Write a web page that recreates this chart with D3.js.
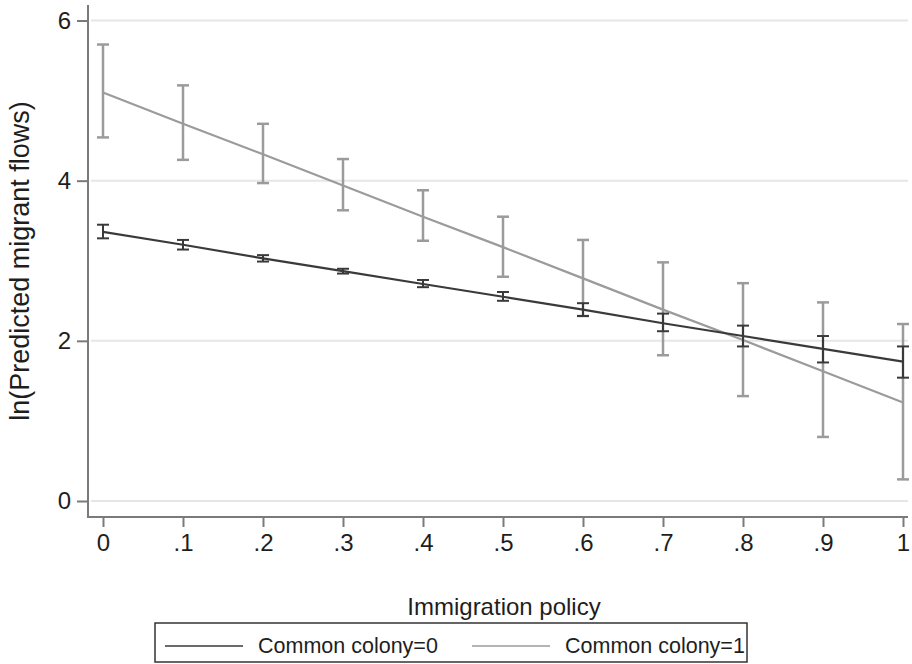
<!DOCTYPE html>
<html>
<head>
<meta charset="utf-8">
<script src="https://cdn.jsdelivr.net/npm/d3@7"></script>
<style>
	body { margin: 0; background: #fff; }
	svg { display: block; font-family: "Liberation Sans", Arial, sans-serif; }
</style>
</head>
<body>
<svg id="chart" width="912" height="664"></svg>
<script>
// immigration policy values on the x axis
var policy = [0, .1, .2, .3, .4, .5, .6, .7, .8, .9, 1];

// Common colony=0 : predicted value and 95% interval
var colony0 = [3.36, 3.20, 3.03, 2.87, 2.71, 2.55, 2.39, 2.22, 2.06, 1.90, 1.74];
var colony0Lo = [3.28, 3.14, 2.99, 2.84, 2.67, 2.50, 2.31, 2.12, 1.93, 1.73, 1.54];
var colony0Hi = [3.45, 3.26, 3.07, 2.90, 2.76, 2.61, 2.47, 2.34, 2.19, 2.06, 1.93];

// Common colony=1
var colony1 = [5.10, 4.71, 4.33, 3.94, 3.55, 3.17, 2.78, 2.39, 2.01, 1.62, 1.23];
var colony1Lo = [4.54, 4.26, 3.97, 3.63, 3.25, 2.80, 2.31, 1.82, 1.31, 0.80, 0.27];
var colony1Hi = [5.70, 5.19, 4.71, 4.27, 3.88, 3.55, 3.26, 2.98, 2.72, 2.48, 2.21];

var yTicks = [0, 2, 4, 6];
var xTickLabels = ["0", ".1", ".2", ".3", ".4", ".5", ".6", ".7", ".8", ".9", "1"];
var legendLabels = ["Common colony=0", "Common colony=1"];

var dark = "#3a3a3a";
var grey = "#9b9b9b";
var axisColor = "#7a7a7a";
var textColor = "#1e1e1e";

var svg = d3.select("#chart");

var x = d3.scaleLinear().domain([0, 1]).range([103, 903]);
var y = d3.scaleLinear().domain([0, 6]).range([501, 20.5]);

var axisLeft = 88, axisBottom = 517;

// gridlines
svg.append("g").selectAll("line")
	.data(yTicks)
	.join("line")
	.attr("x1", axisLeft + 3).attr("x2", 908)
	.attr("y1", function(d){ return y(d); })
	.attr("y2", function(d){ return y(d); })
	.attr("stroke", "#e6e6e6")
	.attr("stroke-width", 2);

// y axis
var yAxis = svg.append("g")
	.attr("transform", "translate(" + axisLeft + ",0)")
	.call(d3.axisLeft(y).tickValues(yTicks).tickSize(11).tickPadding(6)
		.tickSizeOuter(0).tickFormat(d3.format("d")));
yAxis.select(".domain").remove();
yAxis.selectAll(".tick line").attr("stroke", axisColor).attr("stroke-width", 2);
yAxis.selectAll(".tick text")
	.style("font-size", "24px")
	.style("font-family", "'Liberation Sans', Arial, sans-serif")
	.attr("fill", textColor);

// x axis
var xAxis = svg.append("g")
	.attr("transform", "translate(0," + axisBottom + ")")
	.call(d3.axisBottom(x).tickValues(policy).tickSize(10).tickSizeOuter(0)
		.tickFormat(function(d, i){ return xTickLabels[i]; }));
xAxis.select(".domain").remove();
xAxis.selectAll(".tick line").attr("stroke", axisColor).attr("stroke-width", 2);
xAxis.selectAll(".tick text")
	.attr("y", 17)
	.style("font-size", "24px")
	.style("font-family", "'Liberation Sans', Arial, sans-serif")
	.attr("fill", textColor);

// axis lines
svg.append("line")
	.attr("x1", axisLeft).attr("x2", axisLeft)
	.attr("y1", 5).attr("y2", axisBottom + 1)
	.attr("stroke", axisColor).attr("stroke-width", 2);
svg.append("line")
	.attr("x1", axisLeft - 1).attr("x2", 908)
	.attr("y1", axisBottom).attr("y2", axisBottom)
	.attr("stroke", axisColor).attr("stroke-width", 2);

function drawSeries(vals, lo, hi, color, width){
	var g = svg.append("g");
	var bars = g.selectAll("g.bar")
		.data(policy)
		.join("g")
		.attr("class", "bar");
	bars.append("line")
		.attr("x1", function(d){ return x(d); })
		.attr("x2", function(d){ return x(d); })
		.attr("y1", function(d, i){ return y(lo[i]); })
		.attr("y2", function(d, i){ return y(hi[i]); })
		.attr("stroke", color).attr("stroke-width", width);
	[lo, hi].forEach(function(arr){
		bars.append("line")
			.attr("x1", function(d){ return x(d) - 6; })
			.attr("x2", function(d){ return x(d) + 6; })
			.attr("y1", function(d, i){ return y(arr[i]); })
			.attr("y2", function(d, i){ return y(arr[i]); })
			.attr("stroke", color).attr("stroke-width", width);
	});
	var line = d3.line()
		.x(function(d){ return x(d); })
		.y(function(d, i){ return y(vals[i]); });
	g.append("path")
		.datum(policy)
		.attr("d", line)
		.attr("fill", "none")
		.attr("stroke", color)
		.attr("stroke-width", 2.2);
}

drawSeries(colony1, colony1Lo, colony1Hi, grey, 2.5);
drawSeries(colony0, colony0Lo, colony0Hi, dark, 2);

// axis titles
svg.append("text")
	.attr("x", 504).attr("y", 615)
	.attr("text-anchor", "middle")
	.attr("font-size", 24)
	.attr("fill", textColor)
	.text("Immigration policy");
svg.append("text")
	.attr("transform", "translate(29,261) rotate(-90)")
	.attr("text-anchor", "middle")
	.attr("font-size", 27)
	.attr("fill", textColor)
	.text("ln(Predicted migrant flows)");

// legend
svg.append("rect")
	.attr("x", 155).attr("y", 623)
	.attr("width", 592).attr("height", 39)
	.attr("fill", "none")
	.attr("stroke", "#333")
	.attr("stroke-width", 1.5);

var legendX = [165, 472];
legendLabels.forEach(function(label, i){
	var color = i === 0 ? dark : grey;
	svg.append("line")
		.attr("x1", legendX[i]).attr("x2", legendX[i] + 78)
		.attr("y1", 646).attr("y2", 646)
		.attr("stroke", color).attr("stroke-width", 1.5);
	svg.append("text")
		.attr("x", legendX[i] + 93).attr("y", 653)
		.attr("font-size", 21.5)
		.attr("fill", textColor)
		.text(label);
});
</script>
</body>
</html>
